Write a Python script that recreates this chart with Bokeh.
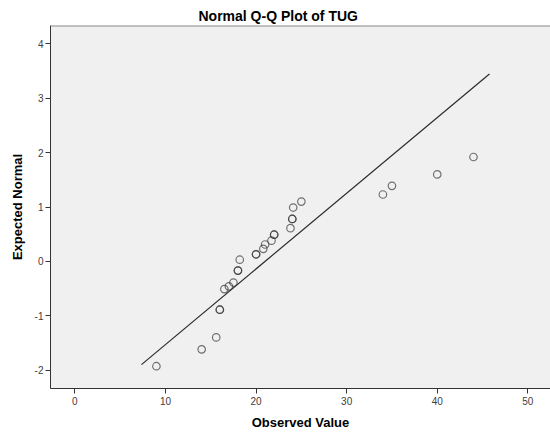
from bokeh.plotting import figure
from bokeh.models import Range1d, Span, FixedTicker, CustomJSTickFormatter
from bokeh.embed import file_html
from bokeh.resources import INLINE

observed = [9.0, 14.0, 15.6, 16.0, 16.5, 17.0, 17.5, 18.0, 18.2, 20.0, 20.8,
            21.0, 21.7, 22.0, 23.8, 24.0, 24.1, 25.0, 34.0, 35.0, 40.0, 44.0]
expected = [-1.93, -1.62, -1.40, -0.89, -0.51, -0.46, -0.39, -0.17, 0.03, 0.13, 0.23,
            0.31, 0.38, 0.49, 0.61, 0.78, 0.99, 1.10, 1.23, 1.39, 1.60, 1.92]
# number of cases sharing each plotted value (ties overplot -> darker rings)
cases = [1, 1, 1, 2, 1, 1, 1, 2, 1, 2, 1,
         1, 1, 2, 1, 2, 1, 1, 1, 1, 1, 1]

# reference line: normal with the sample mean / sd
line_mean = 21.0
line_sd = 7.18
line_x = [7.35, 45.76]
line_y = [(v - line_mean) / line_sd for v in line_x]

x_ticks = [0, 10, 20, 30, 40, 50]
y_ticks = [-2, -1, 0, 1, 2, 3, 4]

FONT = "Liberation Sans"

p = figure(width=550, height=432, output_backend="svg", toolbar_location=None,
           x_range=Range1d(-2.69, 52.5), y_range=Range1d(-2.34, 4.34),
           min_border_left=50, min_border_right=0, min_border_top=25,
           min_border_bottom=44)

p.title.text = "Normal Q-Q Plot of TUG"
p.title.text_font = FONT
p.title.text_font_size = "14px"
p.title.text_font_style = "bold"
p.title.text_color = "#000000"
p.title.align = "left"
p.title.offset = 148
p.title.standoff = 4

p.background_fill_color = "#f0f0f0"
p.border_fill_color = "#ffffff"
p.outline_line_color = None
p.grid.visible = False

fmt = CustomJSTickFormatter(code="return String(tick);")
for ax in (p.xaxis[0], p.yaxis[0]):
    ax.axis_line_color = "#333333"
    ax.axis_line_width = 1
    ax.major_tick_line_color = "#333333"
    ax.major_tick_in = 0
    ax.major_tick_out = 5
    ax.minor_tick_line_color = None
    ax.major_label_text_font = FONT
    ax.major_label_text_font_size = "10px"
    ax.major_label_text_color = "#404040"
    ax.axis_label_text_font = FONT
    ax.axis_label_text_font_size = "13px"
    ax.axis_label_text_font_style = "bold"
    ax.axis_label_text_color = "#000000"
    ax.formatter = fmt

p.xaxis.ticker = FixedTicker(ticks=x_ticks)
p.yaxis.ticker = FixedTicker(ticks=y_ticks)
p.xaxis.axis_label = "Observed Value"
p.yaxis.axis_label = "Expected Normal"
p.xaxis.major_label_standoff = 3
p.yaxis.major_label_standoff = 2
p.xaxis.axis_label_standoff = 7
p.yaxis.axis_label_standoff = 7

# top border of the plot area
p.add_layout(Span(location=4.34, dimension="width", line_color="#8c8c8c", line_width=2))

p.line(line_x, line_y, line_color="#2b2b2b", line_width=1.2)

px, py = [], []
for xv, yv, n in zip(observed, expected, cases):
    for _ in range(n):
        px.append(xv)
        py.append(yv)
p.scatter(px, py, marker="circle", size=7.5, fill_color=None,
          line_color="#333333", line_width=1.2, line_alpha=0.68)

open("out.html", "w").write(file_html(p, INLINE))
